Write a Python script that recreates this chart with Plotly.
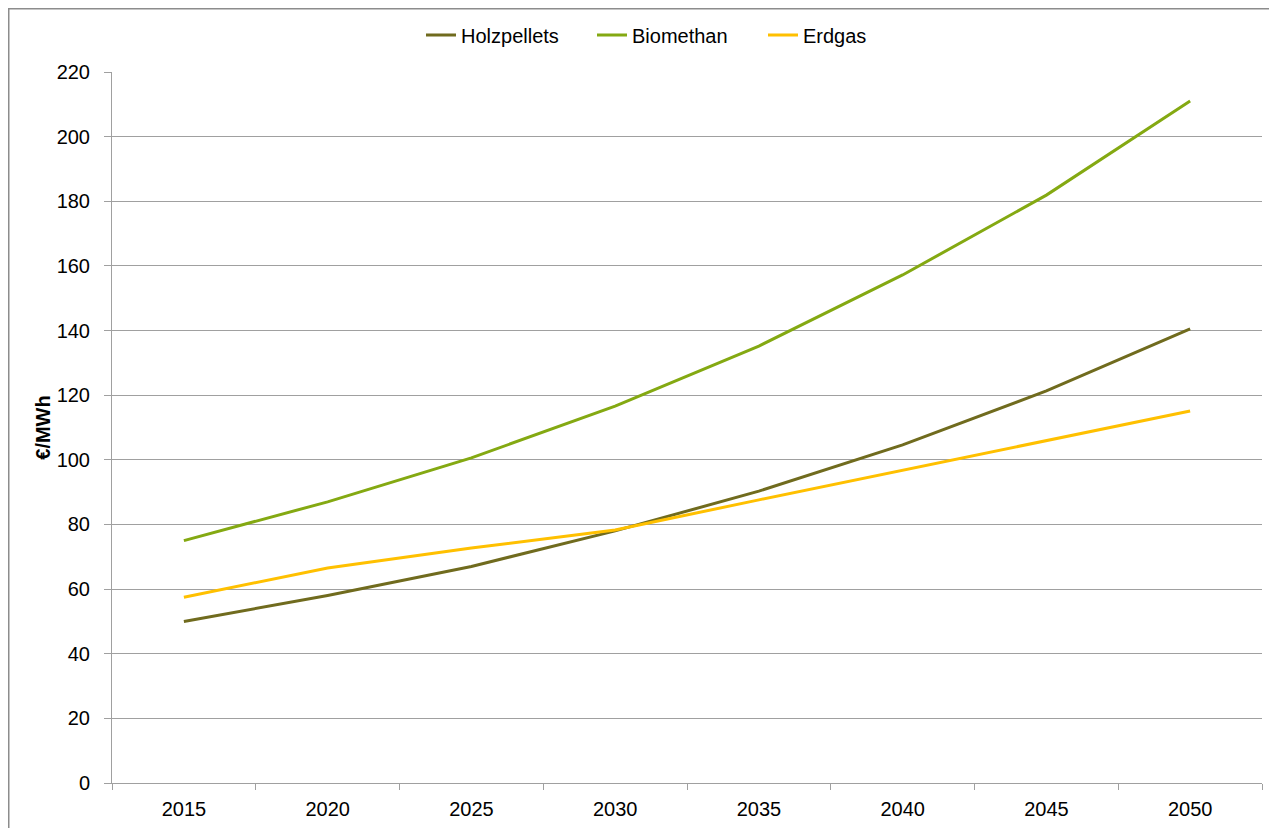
import plotly.graph_objects as go

years = ["2015", "2020", "2025", "2030", "2035", "2040", "2045", "2050"]
holzpellets = [50, 58, 67, 78, 90.3, 104.6, 121.3, 140.5]
biomethan = [75, 87, 100.6, 116.6, 135.2, 157.2, 181.9, 211]
erdgas = [57.5, 66.5, 72.7, 78.3, 87.6, 96.8, 106.1, 115.1]

series = [
    ("Holzpellets", holzpellets, "#706B1E"),
    ("Biomethan", biomethan, "#84A912"),
    ("Erdgas", erdgas, "#FFC000"),
]

fig = go.Figure()
for name, vals, col in series:
    fig.add_trace(go.Scatter(x=years, y=vals, name=name, mode="lines",
                             line=dict(color=col, width=3)))

# page body has an 8px margin, so the figure starts at (8, 8)
W, H = 1269, 820
L, R, T, B = 104, 15, 64, 45
pw, ph = W - L - R, H - T - B

fig.add_shape(type="rect", xref="paper", yref="paper",
              x0=(0.75 - L) / pw, x1=(W + 20 - L) / pw,
              y0=-(B + 20) / ph, y1=(H - B - 0.75) / ph,
              line=dict(color="#8C8C8C", width=1.5), layer="below")

fig.update_layout(
    width=W, height=H,
    margin=dict(l=L, r=R, t=T, b=B, autoexpand=False),
    paper_bgcolor="white", plot_bgcolor="white",
    font=dict(family="Liberation Sans, Arial, sans-serif", size=20, color="#000000"),
    showlegend=True,
    legend=dict(orientation="h", x=(413 - L) / pw, xanchor="left",
                y=(H - B - 27) / ph, yanchor="middle",
                font=dict(size=20), itemwidth=30, traceorder="normal",
                entrywidth=126, entrywidthmode="pixels"),
    xaxis=dict(type="category", tickson="boundaries", ticks="outside", ticklen=6,
               tickcolor="#A0A0A0", showline=True, linecolor="#A0A0A0", linewidth=1,
               showgrid=False, range=[-0.5, 7.5], ticklabelstandoff=8),
    yaxis=dict(range=[0, 220], dtick=20, ticks="outside", ticklen=7, tickcolor="#A0A0A0",
               showline=True, linecolor="#A0A0A0", linewidth=1,
               gridcolor="#A0A0A0", gridwidth=1, zeroline=False,
               title=dict(text="<b>€/MWh</b>", font=dict(size=20), standoff=0),
               ticklabelstandoff=10),
)

fig.write_html("out.html")
